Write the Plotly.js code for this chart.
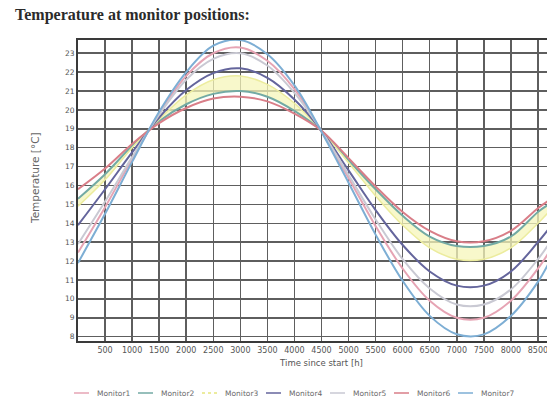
<!DOCTYPE html>
<html>
<head>
<meta charset="utf-8">
<script src="https://cdn.plot.ly/plotly-3.0.1.min.js"></script>
<style>
  html, body { margin: 0; padding: 0; background: #fff; overflow: hidden; }
  #chart { width: 590px; height: 406px; }
</style>
</head>
<body>
<div id="chart"></div>
<script>
// Hours since start at which each monitor temperature is sampled
const hours = [0, 500, 1000, 1500, 2000, 2500, 3000, 3500, 4000, 4500,
               5000, 5500, 6000, 6500, 7000, 7500, 8000, 8500, 8700];

// Temperature [°C] per monitor position
const monitor1 = [12.45, 14.85, 17.4, 19.8, 21.8, 23.0, 23.3, 22.6, 21.1, 18.85,
                  16.4, 13.85, 11.6, 9.9, 9.0, 9.0, 9.9, 11.6, 12.45];
const monitor2 = [15.3, 16.6, 18.1, 19.4, 20.3, 20.85, 21.0, 20.7, 19.95, 18.9,
                  17.35, 15.8, 14.4, 13.3, 12.8, 12.8, 13.3, 14.6, 15.0];
const monitor3 = [14.9, 16.3, 18.0, 19.5, 20.8, 21.6, 21.8, 21.35, 20.35, 18.9,
                  17.2, 15.45, 13.9, 12.7, 12.1, 12.1, 12.7, 14.0, 14.6];
const monitor4 = [13.9, 15.8, 17.75, 19.6, 21.05, 21.95, 22.2, 21.7, 20.55, 18.9,
                  16.8, 14.7, 12.85, 11.45, 10.7, 10.7, 11.45, 13.0, 13.7];
const monitor5 = [12.9, 15.15, 17.5, 19.75, 21.6, 22.7, 23.0, 22.35, 20.9, 18.9,
                  16.55, 14.2, 12.1, 10.55, 9.7, 9.7, 10.5, 12.1, 12.9];
const monitor6 = [15.8, 16.9, 18.2, 19.3, 20.1, 20.6, 20.7, 20.45, 19.8, 18.9,
                  17.45, 15.95, 14.6, 13.6, 13.05, 13.05, 13.6, 14.8, 15.2];
const monitor7 = [11.9, 14.5, 17.25, 19.9, 22.0, 23.4, 23.7, 22.95, 21.3, 18.85,
                  16.15, 13.4, 10.95, 9.1, 8.13, 8.12, 9.1, 10.9, 11.9];

const names = ['Monitor1', 'Monitor2', 'Monitor3', 'Monitor4', 'Monitor5', 'Monitor6', 'Monitor7'];
const series = [monitor1, monitor2, monitor3, monitor4, monitor5, monitor6, monitor7];
const colors = ['#e6a4b4', '#73aaa4', '#ecec9e', '#64659c', '#c9c9d3', '#d97e88', '#7daed4'];

const xTicks = [500, 1000, 1500, 2000, 2500, 3000, 3500, 4000, 4500,
                5000, 5500, 6000, 6500, 7000, 7500, 8000, 8500];
const yTicks = [8, 9, 10, 11, 12, 13, 14, 15, 16, 17, 18, 19, 20, 21, 22, 23];

const traces = series.map((vals, i) => {
  const t = {
    type: 'scatter',
    mode: 'lines',
    name: names[i],
    x: hours,
    y: vals,
    showlegend: false,
    line: { color: colors[i], width: 2, shape: 'spline', smoothing: 1 }
  };
  if (names[i] === 'Monitor3') {
    // band between Monitor2 and Monitor3
    t.fill = 'tonexty';
    t.fillcolor = 'rgba(245,245,185,0.75)';
    t.line.width = 1.5;
  }
  return t;
});

const W = 590, H = 406;
const M = { l: 78, r: 25, t: 40, b: 65 };
const plotW = W - M.l - M.r, plotH = H - M.t - M.b;
// pixel -> paper fraction helpers
const px = x => (x - M.l) / plotW;
const py = y => (H - M.b - y) / plotH;

// Compact legend row below the axis: short line key + label per monitor
const shapes = [];
const annotations = [];
names.forEach((name, i) => {
  const tx = 95 + 64 * i;
  shapes.push({
    type: 'line', xref: 'paper', yref: 'paper',
    x0: px(tx - 21), x1: px(tx - 6), y0: py(393), y1: py(393),
    line: { color: colors[i], width: name === 'Monitor3' ? 2 : 1.5,
            dash: name === 'Monitor3' ? 'dot' : 'solid' }
  });
  annotations.push({
    xref: 'paper', yref: 'paper', x: px(tx), y: py(393),
    xanchor: 'left', yanchor: 'middle', showarrow: false,
    text: name,
    font: { family: 'DejaVu Sans, sans-serif', size: 7.5, color: '#6a6a6a' }
  });
});

// Vertical y-axis title
annotations.push({
  xref: 'paper', yref: 'paper', x: px(35), y: py(178),
  xanchor: 'center', yanchor: 'middle', showarrow: false,
  textangle: -90,
  text: 'Temperature [°C]',
  font: { family: 'DejaVu Sans, sans-serif', size: 10.5, color: '#666' }
});

const layout = {
  width: W,
  height: H,
  paper_bgcolor: '#ffffff',
  plot_bgcolor: '#ffffff',
  margin: { l: M.l, r: M.r, t: M.t, b: M.b, autoexpand: false },
  showlegend: false,
  title: {
    text: 'Temperature at monitor positions:',
    font: { family: 'Liberation Serif, serif', size: 16, color: '#2b2b2b', weight: 'bold' },
    xref: 'container', x: 15 / W, xanchor: 'left',
    yref: 'container', y: 1 - 14 / H, yanchor: 'middle'
  },
  xaxis: {
    range: [0, 9000],
    tickmode: 'array',
    tickvals: xTicks,
    ticktext: xTicks.map(String),
    tickfont: { family: 'DejaVu Sans, sans-serif', size: 8, color: '#555' },
    showgrid: true,
    gridcolor: '#5e5e5e',
    gridwidth: 1.5,
    showline: true,
    linecolor: '#3a3a3a',
    linewidth: 2,
    mirror: true,
    ticks: '',
    zeroline: false,
    automargin: false,
    title: {
      text: 'Time since start [h]',
      font: { family: 'DejaVu Sans, sans-serif', size: 8.5, color: '#555' },
      standoff: 6
    }
  },
  yaxis: {
    range: [7.77, 23.7],
    tickmode: 'array',
    tickvals: yTicks,
    ticktext: yTicks.map(String),
    tickfont: { family: 'DejaVu Sans, sans-serif', size: 7.5, color: '#555' },
    showgrid: true,
    gridcolor: '#5e5e5e',
    gridwidth: 1.5,
    showline: true,
    linecolor: '#3a3a3a',
    linewidth: 2,
    mirror: true,
    ticks: '',
    zeroline: false,
    automargin: false
  },
  shapes: shapes,
  annotations: annotations
};

Plotly.newPlot('chart', traces, layout, { displayModeBar: false, staticPlot: true });
</script>
</body>
</html>
